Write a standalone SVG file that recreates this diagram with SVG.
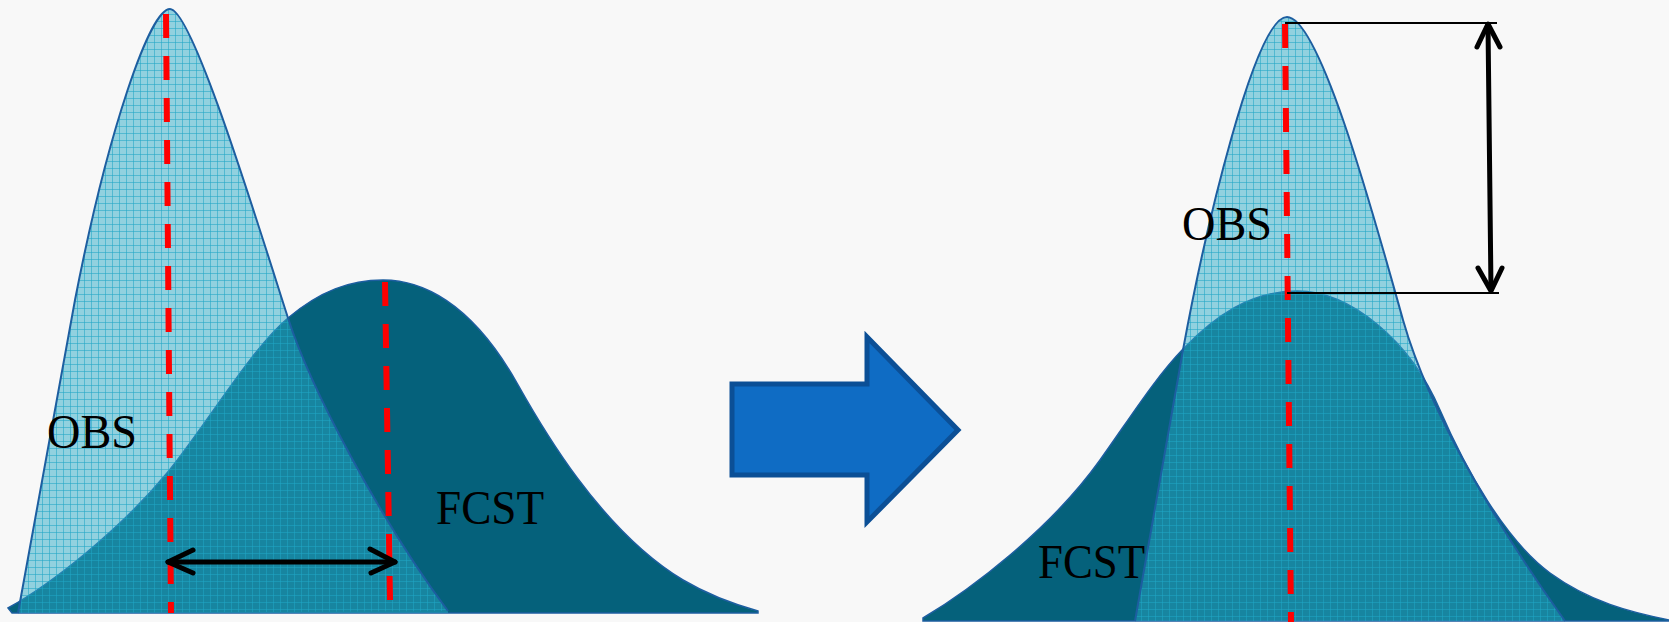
<svg xmlns="http://www.w3.org/2000/svg" width="1669" height="622" viewBox="0 0 1669 622">
<defs>
<pattern id="grid" width="7" height="7" patternUnits="userSpaceOnUse">
<path d="M0,0.5 H7 M0.5,0 V7" stroke="#1ea6c4" stroke-width="1" fill="none" opacity="0.55"/>
</pattern>
<style>
.fcst{fill:#05617b;stroke:#1d5ea0;stroke-width:1.5}
.obs{fill:#2aaac6;fill-opacity:0.5;stroke:none}
.obsgrid{fill:url(#grid);stroke:#1d5ea0;stroke-width:2}
.mean{stroke:#ff0000;stroke-width:6;stroke-dasharray:24 18;fill:none}
.arr{stroke:#000;stroke-width:5;fill:none;stroke-linecap:round;stroke-linejoin:round}
.thin{stroke:#000;stroke-width:2;fill:none}
.lbl{font-family:"Liberation Serif","Times New Roman",serif;font-size:48px;fill:#000}
</style>
</defs>
<rect width="1669" height="622" fill="#f8f8f8"/>

<g id="left-fcst">
<path class="fcst" d="M8,608 C50,585 120,530 167,473 C205,427 250,350 288,318 C320,291 350,280 383,280 C420,280 470,300 517,383 C540,424 600,530 683,580 C710,596 740,606 758,611 L758,613 L12,613 Z"/>
</g>
<g id="left-obs">
<path class="obs" d="M18,613 L75,300 C108,130 150,9 170,9 C192,9 255,215 288,318 C310,387 380,520 448,611 L448,613 Z"/>
<path class="obsgrid" d="M18,613 L75,300 C108,130 150,9 170,9 C192,9 255,215 288,318 C310,387 380,520 448,611"/>
</g>

<g id="right-fcst">
<path class="fcst" d="M923,618 C970,590 1050,530 1100,460 C1130,418 1155,378 1183,349 C1215,316 1250,291 1297,291 C1350,291 1410,340 1440,410 C1465,468 1505,540 1550,573 C1590,602 1630,612 1669,620 L1669,621 L923,621 Z"/>
</g>
<g id="right-obs">
<path class="obs" d="M1135,621 L1183,350 C1205,230 1255,17 1287,17 C1320,17 1375,220 1403,320 C1430,415 1500,530 1565,621 Z"/>
<path class="obsgrid" d="M1135,621 L1183,350 C1205,230 1255,17 1287,17 C1320,17 1375,220 1403,320 C1430,415 1500,530 1565,621"/>
</g>

<g id="transform-arrow">
<polygon points="732,384 867,384 867,337 958,430 867,522 867,475 732,475" fill="#0f6cc4" stroke="#0b4f96" stroke-width="5"/>
</g>

<g id="connectors">
<line class="mean" x1="166" y1="14" x2="171" y2="613"/>
<line class="mean" x1="385" y1="282" x2="390" y2="600"/>
<line class="mean" x1="1285" y1="24" x2="1291" y2="622"/>
<line class="thin" x1="1285" y1="23" x2="1497" y2="23"/>
<line class="thin" x1="1287" y1="293" x2="1499" y2="293"/>
<line class="arr" x1="168" y1="562" x2="395" y2="562"/>
<polyline class="arr" points="193,550 168,562 193,573"/>
<polyline class="arr" points="370,549 395,562 371,573"/>
<line class="arr" x1="1488" y1="25" x2="1491" y2="290"/>
<polyline class="arr" points="1477,47 1488,24 1500,47"/>
<polyline class="arr" points="1478,268 1491,291 1502,268"/>
</g>

<g id="labels">
<text class="lbl" x="47" y="448" textLength="90" lengthAdjust="spacingAndGlyphs">OBS</text>
<text class="lbl" x="436" y="524" textLength="108" lengthAdjust="spacingAndGlyphs">FCST</text>
<text class="lbl" x="1182" y="240" textLength="90" lengthAdjust="spacingAndGlyphs">OBS</text>
<text class="lbl" x="1038" y="578" textLength="107" lengthAdjust="spacingAndGlyphs">FCST</text>
</g>
</svg>
